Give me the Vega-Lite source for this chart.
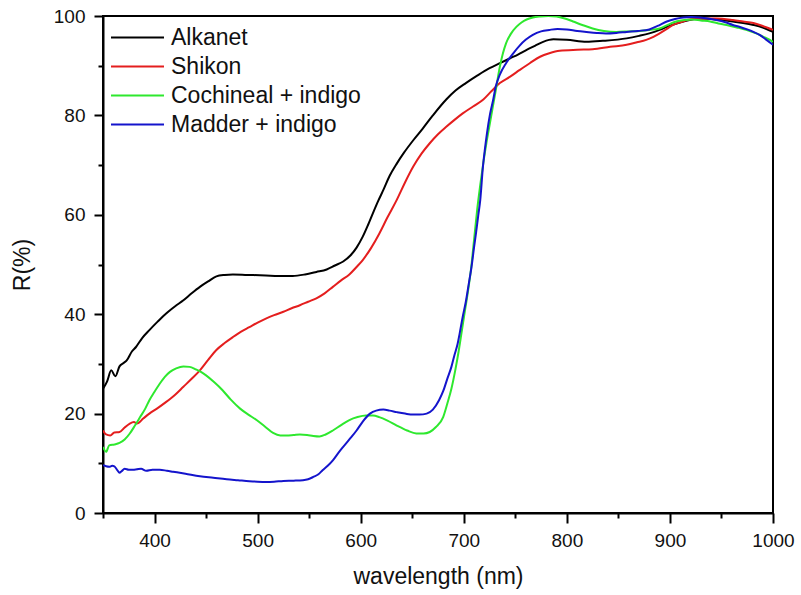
{
  "$schema": "https://vega.github.io/schema/vega-lite/v6.json",
  "width": 670,
  "height": 497,
  "autosize": {"type": "none"},
  "padding": {"left": 103, "top": 16, "right": 28, "bottom": 82},
  "config": {
    "font": "Liberation Sans",
    "view": {"stroke": "#000000", "strokeWidth": 2},
    "axis": {"grid": false, "domainColor": "#000000", "domainWidth": 2, "tickColor": "#000000", "tickWidth": 2, "labelColor": "#111111", "titleColor": "#111111", "labelFont": "Liberation Sans", "titleFont": "Liberation Sans", "titleFontWeight": "normal", "labelFontSize": 19, "titleFontSize": 23}
  },
  "datasets": {
    "spectra": [
      {"s":"Alkanet","x":350,"y":25.0},{"s":"Alkanet","x":354,"y":26.5},{"s":"Alkanet","x":358,"y":28.7},{"s":"Alkanet","x":362,"y":27.5},{"s":"Alkanet","x":366,"y":29.5},{"s":"Alkanet","x":370,"y":30.2},{"s":"Alkanet","x":373,"y":30.7},{"s":"Alkanet","x":378,"y":32.5},{"s":"Alkanet","x":382,"y":33.4},{"s":"Alkanet","x":388,"y":35.2},{"s":"Alkanet","x":395,"y":36.8},{"s":"Alkanet","x":403,"y":38.5},{"s":"Alkanet","x":411,"y":40.1},{"s":"Alkanet","x":420,"y":41.6},{"s":"Alkanet","x":428,"y":42.8},{"s":"Alkanet","x":436,"y":44.2},{"s":"Alkanet","x":444,"y":45.5},{"s":"Alkanet","x":452,"y":46.6},{"s":"Alkanet","x":460,"y":47.6},{"s":"Alkanet","x":468,"y":47.9},{"s":"Alkanet","x":476,"y":48.0},{"s":"Alkanet","x":490,"y":47.9},{"s":"Alkanet","x":508,"y":47.8},{"s":"Alkanet","x":520,"y":47.7},{"s":"Alkanet","x":534,"y":47.7},{"s":"Alkanet","x":546,"y":48.0},{"s":"Alkanet","x":557,"y":48.5},{"s":"Alkanet","x":567,"y":49.0},{"s":"Alkanet","x":575,"y":49.8},{"s":"Alkanet","x":583,"y":50.6},{"s":"Alkanet","x":590,"y":51.8},{"s":"Alkanet","x":596,"y":53.4},{"s":"Alkanet","x":602,"y":55.6},{"s":"Alkanet","x":607,"y":57.9},{"s":"Alkanet","x":612,"y":60.4},{"s":"Alkanet","x":617,"y":62.8},{"s":"Alkanet","x":622,"y":65.0},{"s":"Alkanet","x":628,"y":67.8},{"s":"Alkanet","x":635,"y":70.3},{"s":"Alkanet","x":642,"y":72.5},{"s":"Alkanet","x":651,"y":75.0},{"s":"Alkanet","x":660,"y":77.3},{"s":"Alkanet","x":670,"y":80.0},{"s":"Alkanet","x":683,"y":83.2},{"s":"Alkanet","x":692,"y":85.0},{"s":"Alkanet","x":702,"y":86.5},{"s":"Alkanet","x":713,"y":88.0},{"s":"Alkanet","x":725,"y":89.5},{"s":"Alkanet","x":735,"y":90.5},{"s":"Alkanet","x":745,"y":91.5},{"s":"Alkanet","x":753,"y":92.3},{"s":"Alkanet","x":761,"y":93.2},{"s":"Alkanet","x":769,"y":94.0},{"s":"Alkanet","x":777,"y":94.8},{"s":"Alkanet","x":787,"y":95.3},{"s":"Alkanet","x":800,"y":95.2},{"s":"Alkanet","x":819,"y":94.8},{"s":"Alkanet","x":835,"y":95.0},{"s":"Alkanet","x":858,"y":95.5},{"s":"Alkanet","x":870,"y":96.0},{"s":"Alkanet","x":880,"y":96.5},{"s":"Alkanet","x":890,"y":97.2},{"s":"Alkanet","x":897,"y":97.8},{"s":"Alkanet","x":908,"y":98.6},{"s":"Alkanet","x":919,"y":99.2},{"s":"Alkanet","x":929,"y":99.5},{"s":"Alkanet","x":945,"y":99.3},{"s":"Alkanet","x":961,"y":98.9},{"s":"Alkanet","x":971,"y":98.6},{"s":"Alkanet","x":981,"y":98.2},{"s":"Alkanet","x":990,"y":97.7},{"s":"Alkanet","x":1000,"y":96.8},
      {"s":"Shikon","x":350,"y":16.6},{"s":"Shikon","x":353,"y":15.8},{"s":"Shikon","x":357,"y":15.6},{"s":"Shikon","x":361,"y":16.2},{"s":"Shikon","x":366,"y":16.3},{"s":"Shikon","x":371,"y":17.2},{"s":"Shikon","x":376,"y":18.0},{"s":"Shikon","x":380,"y":18.3},{"s":"Shikon","x":383,"y":18.0},{"s":"Shikon","x":389,"y":19.0},{"s":"Shikon","x":395,"y":20.0},{"s":"Shikon","x":403,"y":21.1},{"s":"Shikon","x":411,"y":22.3},{"s":"Shikon","x":420,"y":23.8},{"s":"Shikon","x":428,"y":25.4},{"s":"Shikon","x":436,"y":27.0},{"s":"Shikon","x":444,"y":28.7},{"s":"Shikon","x":452,"y":30.8},{"s":"Shikon","x":460,"y":32.8},{"s":"Shikon","x":468,"y":34.2},{"s":"Shikon","x":476,"y":35.4},{"s":"Shikon","x":484,"y":36.5},{"s":"Shikon","x":492,"y":37.4},{"s":"Shikon","x":500,"y":38.3},{"s":"Shikon","x":508,"y":39.1},{"s":"Shikon","x":516,"y":39.8},{"s":"Shikon","x":525,"y":40.5},{"s":"Shikon","x":533,"y":41.2},{"s":"Shikon","x":541,"y":41.8},{"s":"Shikon","x":549,"y":42.5},{"s":"Shikon","x":557,"y":43.2},{"s":"Shikon","x":565,"y":44.2},{"s":"Shikon","x":573,"y":45.5},{"s":"Shikon","x":581,"y":46.8},{"s":"Shikon","x":589,"y":48.0},{"s":"Shikon","x":596,"y":49.5},{"s":"Shikon","x":602,"y":50.9},{"s":"Shikon","x":610,"y":53.3},{"s":"Shikon","x":618,"y":56.2},{"s":"Shikon","x":626,"y":59.5},{"s":"Shikon","x":635,"y":63.0},{"s":"Shikon","x":643,"y":66.5},{"s":"Shikon","x":651,"y":69.7},{"s":"Shikon","x":659,"y":72.3},{"s":"Shikon","x":667,"y":74.4},{"s":"Shikon","x":675,"y":76.2},{"s":"Shikon","x":683,"y":77.7},{"s":"Shikon","x":691,"y":79.1},{"s":"Shikon","x":699,"y":80.4},{"s":"Shikon","x":709,"y":81.8},{"s":"Shikon","x":719,"y":83.2},{"s":"Shikon","x":727,"y":84.9},{"s":"Shikon","x":735,"y":86.5},{"s":"Shikon","x":745,"y":87.8},{"s":"Shikon","x":754,"y":89.1},{"s":"Shikon","x":764,"y":90.5},{"s":"Shikon","x":774,"y":91.8},{"s":"Shikon","x":783,"y":92.5},{"s":"Shikon","x":793,"y":93.0},{"s":"Shikon","x":810,"y":93.2},{"s":"Shikon","x":825,"y":93.3},{"s":"Shikon","x":842,"y":93.8},{"s":"Shikon","x":858,"y":94.2},{"s":"Shikon","x":868,"y":94.7},{"s":"Shikon","x":877,"y":95.2},{"s":"Shikon","x":884,"y":95.8},{"s":"Shikon","x":890,"y":96.5},{"s":"Shikon","x":897,"y":97.4},{"s":"Shikon","x":903,"y":98.2},{"s":"Shikon","x":911,"y":98.8},{"s":"Shikon","x":919,"y":99.3},{"s":"Shikon","x":932,"y":99.5},{"s":"Shikon","x":945,"y":99.5},{"s":"Shikon","x":961,"y":99.2},{"s":"Shikon","x":971,"y":98.9},{"s":"Shikon","x":981,"y":98.6},{"s":"Shikon","x":990,"y":98.0},{"s":"Shikon","x":1000,"y":97.2},
      {"s":"Cochineal + indigo","x":350,"y":13.3},{"s":"Cochineal + indigo","x":353,"y":12.3},{"s":"Cochineal + indigo","x":356,"y":13.6},{"s":"Cochineal + indigo","x":361,"y":13.8},{"s":"Cochineal + indigo","x":366,"y":14.1},{"s":"Cochineal + indigo","x":371,"y":14.8},{"s":"Cochineal + indigo","x":376,"y":16.0},{"s":"Cochineal + indigo","x":381,"y":17.6},{"s":"Cochineal + indigo","x":386,"y":19.3},{"s":"Cochineal + indigo","x":391,"y":21.0},{"s":"Cochineal + indigo","x":395,"y":22.7},{"s":"Cochineal + indigo","x":400,"y":24.4},{"s":"Cochineal + indigo","x":405,"y":26.0},{"s":"Cochineal + indigo","x":410,"y":27.4},{"s":"Cochineal + indigo","x":415,"y":28.4},{"s":"Cochineal + indigo","x":421,"y":29.1},{"s":"Cochineal + indigo","x":428,"y":29.5},{"s":"Cochineal + indigo","x":434,"y":29.4},{"s":"Cochineal + indigo","x":440,"y":28.9},{"s":"Cochineal + indigo","x":445,"y":28.4},{"s":"Cochineal + indigo","x":450,"y":27.7},{"s":"Cochineal + indigo","x":458,"y":26.3},{"s":"Cochineal + indigo","x":466,"y":24.7},{"s":"Cochineal + indigo","x":474,"y":22.8},{"s":"Cochineal + indigo","x":483,"y":21.0},{"s":"Cochineal + indigo","x":491,"y":19.8},{"s":"Cochineal + indigo","x":499,"y":18.7},{"s":"Cochineal + indigo","x":507,"y":17.4},{"s":"Cochineal + indigo","x":515,"y":16.1},{"s":"Cochineal + indigo","x":522,"y":15.6},{"s":"Cochineal + indigo","x":528,"y":15.6},{"s":"Cochineal + indigo","x":535,"y":15.7},{"s":"Cochineal + indigo","x":541,"y":15.8},{"s":"Cochineal + indigo","x":548,"y":15.7},{"s":"Cochineal + indigo","x":554,"y":15.5},{"s":"Cochineal + indigo","x":560,"y":15.4},{"s":"Cochineal + indigo","x":566,"y":15.8},{"s":"Cochineal + indigo","x":573,"y":16.6},{"s":"Cochineal + indigo","x":581,"y":17.7},{"s":"Cochineal + indigo","x":589,"y":18.7},{"s":"Cochineal + indigo","x":597,"y":19.3},{"s":"Cochineal + indigo","x":605,"y":19.6},{"s":"Cochineal + indigo","x":612,"y":19.6},{"s":"Cochineal + indigo","x":618,"y":19.3},{"s":"Cochineal + indigo","x":626,"y":18.6},{"s":"Cochineal + indigo","x":635,"y":17.6},{"s":"Cochineal + indigo","x":645,"y":16.6},{"s":"Cochineal + indigo","x":654,"y":16.0},{"s":"Cochineal + indigo","x":661,"y":16.0},{"s":"Cochineal + indigo","x":667,"y":16.3},{"s":"Cochineal + indigo","x":673,"y":17.3},{"s":"Cochineal + indigo","x":680,"y":19.3},{"s":"Cochineal + indigo","x":684,"y":22.0},{"s":"Cochineal + indigo","x":688,"y":25.0},{"s":"Cochineal + indigo","x":692,"y":29.0},{"s":"Cochineal + indigo","x":695,"y":32.5},{"s":"Cochineal + indigo","x":698,"y":36.5},{"s":"Cochineal + indigo","x":701,"y":40.5},{"s":"Cochineal + indigo","x":704,"y":44.5},{"s":"Cochineal + indigo","x":707,"y":49.0},{"s":"Cochineal + indigo","x":710,"y":55.0},{"s":"Cochineal + indigo","x":713,"y":61.0},{"s":"Cochineal + indigo","x":716,"y":66.0},{"s":"Cochineal + indigo","x":719,"y":70.5},{"s":"Cochineal + indigo","x":722,"y":74.5},{"s":"Cochineal + indigo","x":725,"y":78.0},{"s":"Cochineal + indigo","x":728,"y":81.5},{"s":"Cochineal + indigo","x":731,"y":85.0},{"s":"Cochineal + indigo","x":735,"y":89.8},{"s":"Cochineal + indigo","x":738,"y":92.5},{"s":"Cochineal + indigo","x":741,"y":94.5},{"s":"Cochineal + indigo","x":746,"y":96.5},{"s":"Cochineal + indigo","x":751,"y":97.8},{"s":"Cochineal + indigo","x":756,"y":98.7},{"s":"Cochineal + indigo","x":761,"y":99.3},{"s":"Cochineal + indigo","x":767,"y":99.7},{"s":"Cochineal + indigo","x":774,"y":99.9},{"s":"Cochineal + indigo","x":782,"y":100},{"s":"Cochineal + indigo","x":790,"y":99.9},{"s":"Cochineal + indigo","x":798,"y":99.5},{"s":"Cochineal + indigo","x":806,"y":98.9},{"s":"Cochineal + indigo","x":815,"y":98.2},{"s":"Cochineal + indigo","x":825,"y":97.5},{"s":"Cochineal + indigo","x":836,"y":97.0},{"s":"Cochineal + indigo","x":848,"y":96.8},{"s":"Cochineal + indigo","x":860,"y":96.9},{"s":"Cochineal + indigo","x":871,"y":97.0},{"s":"Cochineal + indigo","x":880,"y":97.2},{"s":"Cochineal + indigo","x":890,"y":97.5},{"s":"Cochineal + indigo","x":898,"y":98.2},{"s":"Cochineal + indigo","x":906,"y":98.9},{"s":"Cochineal + indigo","x":914,"y":99.2},{"s":"Cochineal + indigo","x":922,"y":99.3},{"s":"Cochineal + indigo","x":930,"y":99.1},{"s":"Cochineal + indigo","x":939,"y":98.9},{"s":"Cochineal + indigo","x":947,"y":98.5},{"s":"Cochineal + indigo","x":955,"y":98.2},{"s":"Cochineal + indigo","x":965,"y":97.7},{"s":"Cochineal + indigo","x":974,"y":97.2},{"s":"Cochineal + indigo","x":981,"y":96.7},{"s":"Cochineal + indigo","x":987,"y":96.2},{"s":"Cochineal + indigo","x":992,"y":95.7},{"s":"Cochineal + indigo","x":997,"y":95.2},{"s":"Cochineal + indigo","x":1000,"y":94.8},
      {"s":"Madder + indigo","x":350,"y":9.6},{"s":"Madder + indigo","x":353,"y":9.4},{"s":"Madder + indigo","x":356,"y":9.3},{"s":"Madder + indigo","x":359,"y":9.5},{"s":"Madder + indigo","x":361,"y":9.4},{"s":"Madder + indigo","x":364,"y":8.6},{"s":"Madder + indigo","x":366,"y":8.1},{"s":"Madder + indigo","x":368,"y":8.4},{"s":"Madder + indigo","x":371,"y":8.9},{"s":"Madder + indigo","x":375,"y":8.7},{"s":"Madder + indigo","x":379,"y":8.7},{"s":"Madder + indigo","x":383,"y":8.8},{"s":"Madder + indigo","x":387,"y":8.9},{"s":"Madder + indigo","x":392,"y":8.5},{"s":"Madder + indigo","x":398,"y":8.7},{"s":"Madder + indigo","x":405,"y":8.7},{"s":"Madder + indigo","x":412,"y":8.5},{"s":"Madder + indigo","x":418,"y":8.3},{"s":"Madder + indigo","x":430,"y":7.9},{"s":"Madder + indigo","x":444,"y":7.4},{"s":"Madder + indigo","x":457,"y":7.1},{"s":"Madder + indigo","x":470,"y":6.8},{"s":"Madder + indigo","x":481,"y":6.6},{"s":"Madder + indigo","x":492,"y":6.4},{"s":"Madder + indigo","x":500,"y":6.3},{"s":"Madder + indigo","x":508,"y":6.25},{"s":"Madder + indigo","x":516,"y":6.3},{"s":"Madder + indigo","x":525,"y":6.45},{"s":"Madder + indigo","x":535,"y":6.5},{"s":"Madder + indigo","x":544,"y":6.6},{"s":"Madder + indigo","x":549,"y":6.8},{"s":"Madder + indigo","x":554,"y":7.25},{"s":"Madder + indigo","x":559,"y":7.8},{"s":"Madder + indigo","x":563,"y":8.6},{"s":"Madder + indigo","x":568,"y":9.5},{"s":"Madder + indigo","x":573,"y":10.6},{"s":"Madder + indigo","x":578,"y":12.0},{"s":"Madder + indigo","x":583,"y":13.3},{"s":"Madder + indigo","x":589,"y":14.8},{"s":"Madder + indigo","x":596,"y":16.6},{"s":"Madder + indigo","x":602,"y":18.4},{"s":"Madder + indigo","x":609,"y":20.0},{"s":"Madder + indigo","x":615,"y":20.6},{"s":"Madder + indigo","x":622,"y":20.8},{"s":"Madder + indigo","x":628,"y":20.6},{"s":"Madder + indigo","x":635,"y":20.3},{"s":"Madder + indigo","x":643,"y":20.0},{"s":"Madder + indigo","x":651,"y":19.8},{"s":"Madder + indigo","x":657,"y":19.8},{"s":"Madder + indigo","x":664,"y":20.0},{"s":"Madder + indigo","x":670,"y":20.8},{"s":"Madder + indigo","x":676,"y":22.7},{"s":"Madder + indigo","x":680,"y":24.5},{"s":"Madder + indigo","x":684,"y":27.0},{"s":"Madder + indigo","x":688,"y":29.4},{"s":"Madder + indigo","x":691,"y":31.8},{"s":"Madder + indigo","x":694,"y":34.0},{"s":"Madder + indigo","x":696,"y":36.1},{"s":"Madder + indigo","x":699,"y":39.5},{"s":"Madder + indigo","x":702,"y":42.5},{"s":"Madder + indigo","x":705,"y":46.3},{"s":"Madder + indigo","x":707.5,"y":49.5},{"s":"Madder + indigo","x":710,"y":53.5},{"s":"Madder + indigo","x":712,"y":56.5},{"s":"Madder + indigo","x":714,"y":59.8},{"s":"Madder + indigo","x":716,"y":63.0},{"s":"Madder + indigo","x":718.6,"y":69.7},{"s":"Madder + indigo","x":720.5,"y":73.2},{"s":"Madder + indigo","x":722.5,"y":76.4},{"s":"Madder + indigo","x":725.5,"y":80.3},{"s":"Madder + indigo","x":728.5,"y":83.1},{"s":"Madder + indigo","x":731,"y":85.8},{"s":"Madder + indigo","x":735,"y":88.2},{"s":"Madder + indigo","x":741,"y":90.5},{"s":"Madder + indigo","x":748,"y":92.5},{"s":"Madder + indigo","x":754,"y":94.0},{"s":"Madder + indigo","x":760,"y":95.2},{"s":"Madder + indigo","x":767,"y":96.2},{"s":"Madder + indigo","x":775,"y":96.9},{"s":"Madder + indigo","x":783,"y":97.2},{"s":"Madder + indigo","x":791,"y":97.4},{"s":"Madder + indigo","x":800,"y":97.3},{"s":"Madder + indigo","x":810,"y":97.0},{"s":"Madder + indigo","x":819,"y":96.8},{"s":"Madder + indigo","x":829,"y":96.6},{"s":"Madder + indigo","x":838,"y":96.5},{"s":"Madder + indigo","x":848,"y":96.6},{"s":"Madder + indigo","x":858,"y":96.8},{"s":"Madder + indigo","x":869,"y":97.0},{"s":"Madder + indigo","x":880,"y":97.3},{"s":"Madder + indigo","x":888,"y":98.0},{"s":"Madder + indigo","x":897,"y":98.9},{"s":"Madder + indigo","x":905,"y":99.4},{"s":"Madder + indigo","x":913,"y":99.7},{"s":"Madder + indigo","x":921,"y":99.8},{"s":"Madder + indigo","x":929,"y":99.7},{"s":"Madder + indigo","x":937,"y":99.5},{"s":"Madder + indigo","x":945,"y":99.2},{"s":"Madder + indigo","x":953,"y":98.8},{"s":"Madder + indigo","x":961,"y":98.2},{"s":"Madder + indigo","x":968,"y":97.8},{"s":"Madder + indigo","x":975,"y":97.3},{"s":"Madder + indigo","x":981,"y":96.8},{"s":"Madder + indigo","x":987,"y":96.2},{"s":"Madder + indigo","x":993,"y":95.3},{"s":"Madder + indigo","x":1000,"y":94.2}
    ]
  },
  "data": {"name": "spectra"},
  "mark": {"type": "line", "strokeWidth": 2, "interpolate": "monotone", "clip": true},
  "encoding": {
    "x": {
      "field": "x", "type": "quantitative", "title": "wavelength (nm)",
      "scale": {"domain": [350, 1000], "nice": false, "zero": false},
      "axis": {
        "values": [350, 400, 450, 500, 550, 600, 650, 700, 750, 800, 850, 900, 950, 1000],
        "format": "d",
        "labelExpr": "datum.value % 100 == 0 ? datum.label : ''",
        "tickSize": {"condition": {"test": "datum.value % 100 == 0", "value": 10}, "value": 5},
        "labelPadding": 8, "titlePadding": 15, "labelFlush": false, "labelOverlap": false
      }
    },
    "y": {
      "field": "y", "type": "quantitative", "title": "R(%)",
      "scale": {"domain": [0, 100], "nice": false},
      "axis": {
        "values": [0, 10, 20, 30, 40, 50, 60, 70, 80, 90, 100],
        "format": "d",
        "labelExpr": "datum.value % 20 == 0 ? datum.label : ''",
        "tickSize": {"condition": {"test": "datum.value % 20 == 0", "value": 9}, "value": 5},
        "labelPadding": 9, "titlePadding": 19, "labelFlush": false, "labelOverlap": false
      }
    },
    "color": {
      "field": "s", "type": "nominal", "title": null,
      "sort": ["Alkanet", "Shikon", "Cochineal + indigo", "Madder + indigo"],
      "scale": {"domain": ["Alkanet", "Shikon", "Cochineal + indigo", "Madder + indigo"], "range": ["#000000", "#e41e1e", "#2ee82e", "#1414cc"]},
      "legend": {
        "orient": "none", "legendX": 23, "legendY": 10, "padding": 0,
        "symbolType": "M-3,0H3", "symbolSize": 312, "symbolStrokeWidth": 2,
        "labelFont": "Liberation Sans", "labelFontSize": 23, "labelColor": "#111111",
        "labelOffset": 22, "rowPadding": 5, "labelLimit": 400
      }
    }
  }
}
